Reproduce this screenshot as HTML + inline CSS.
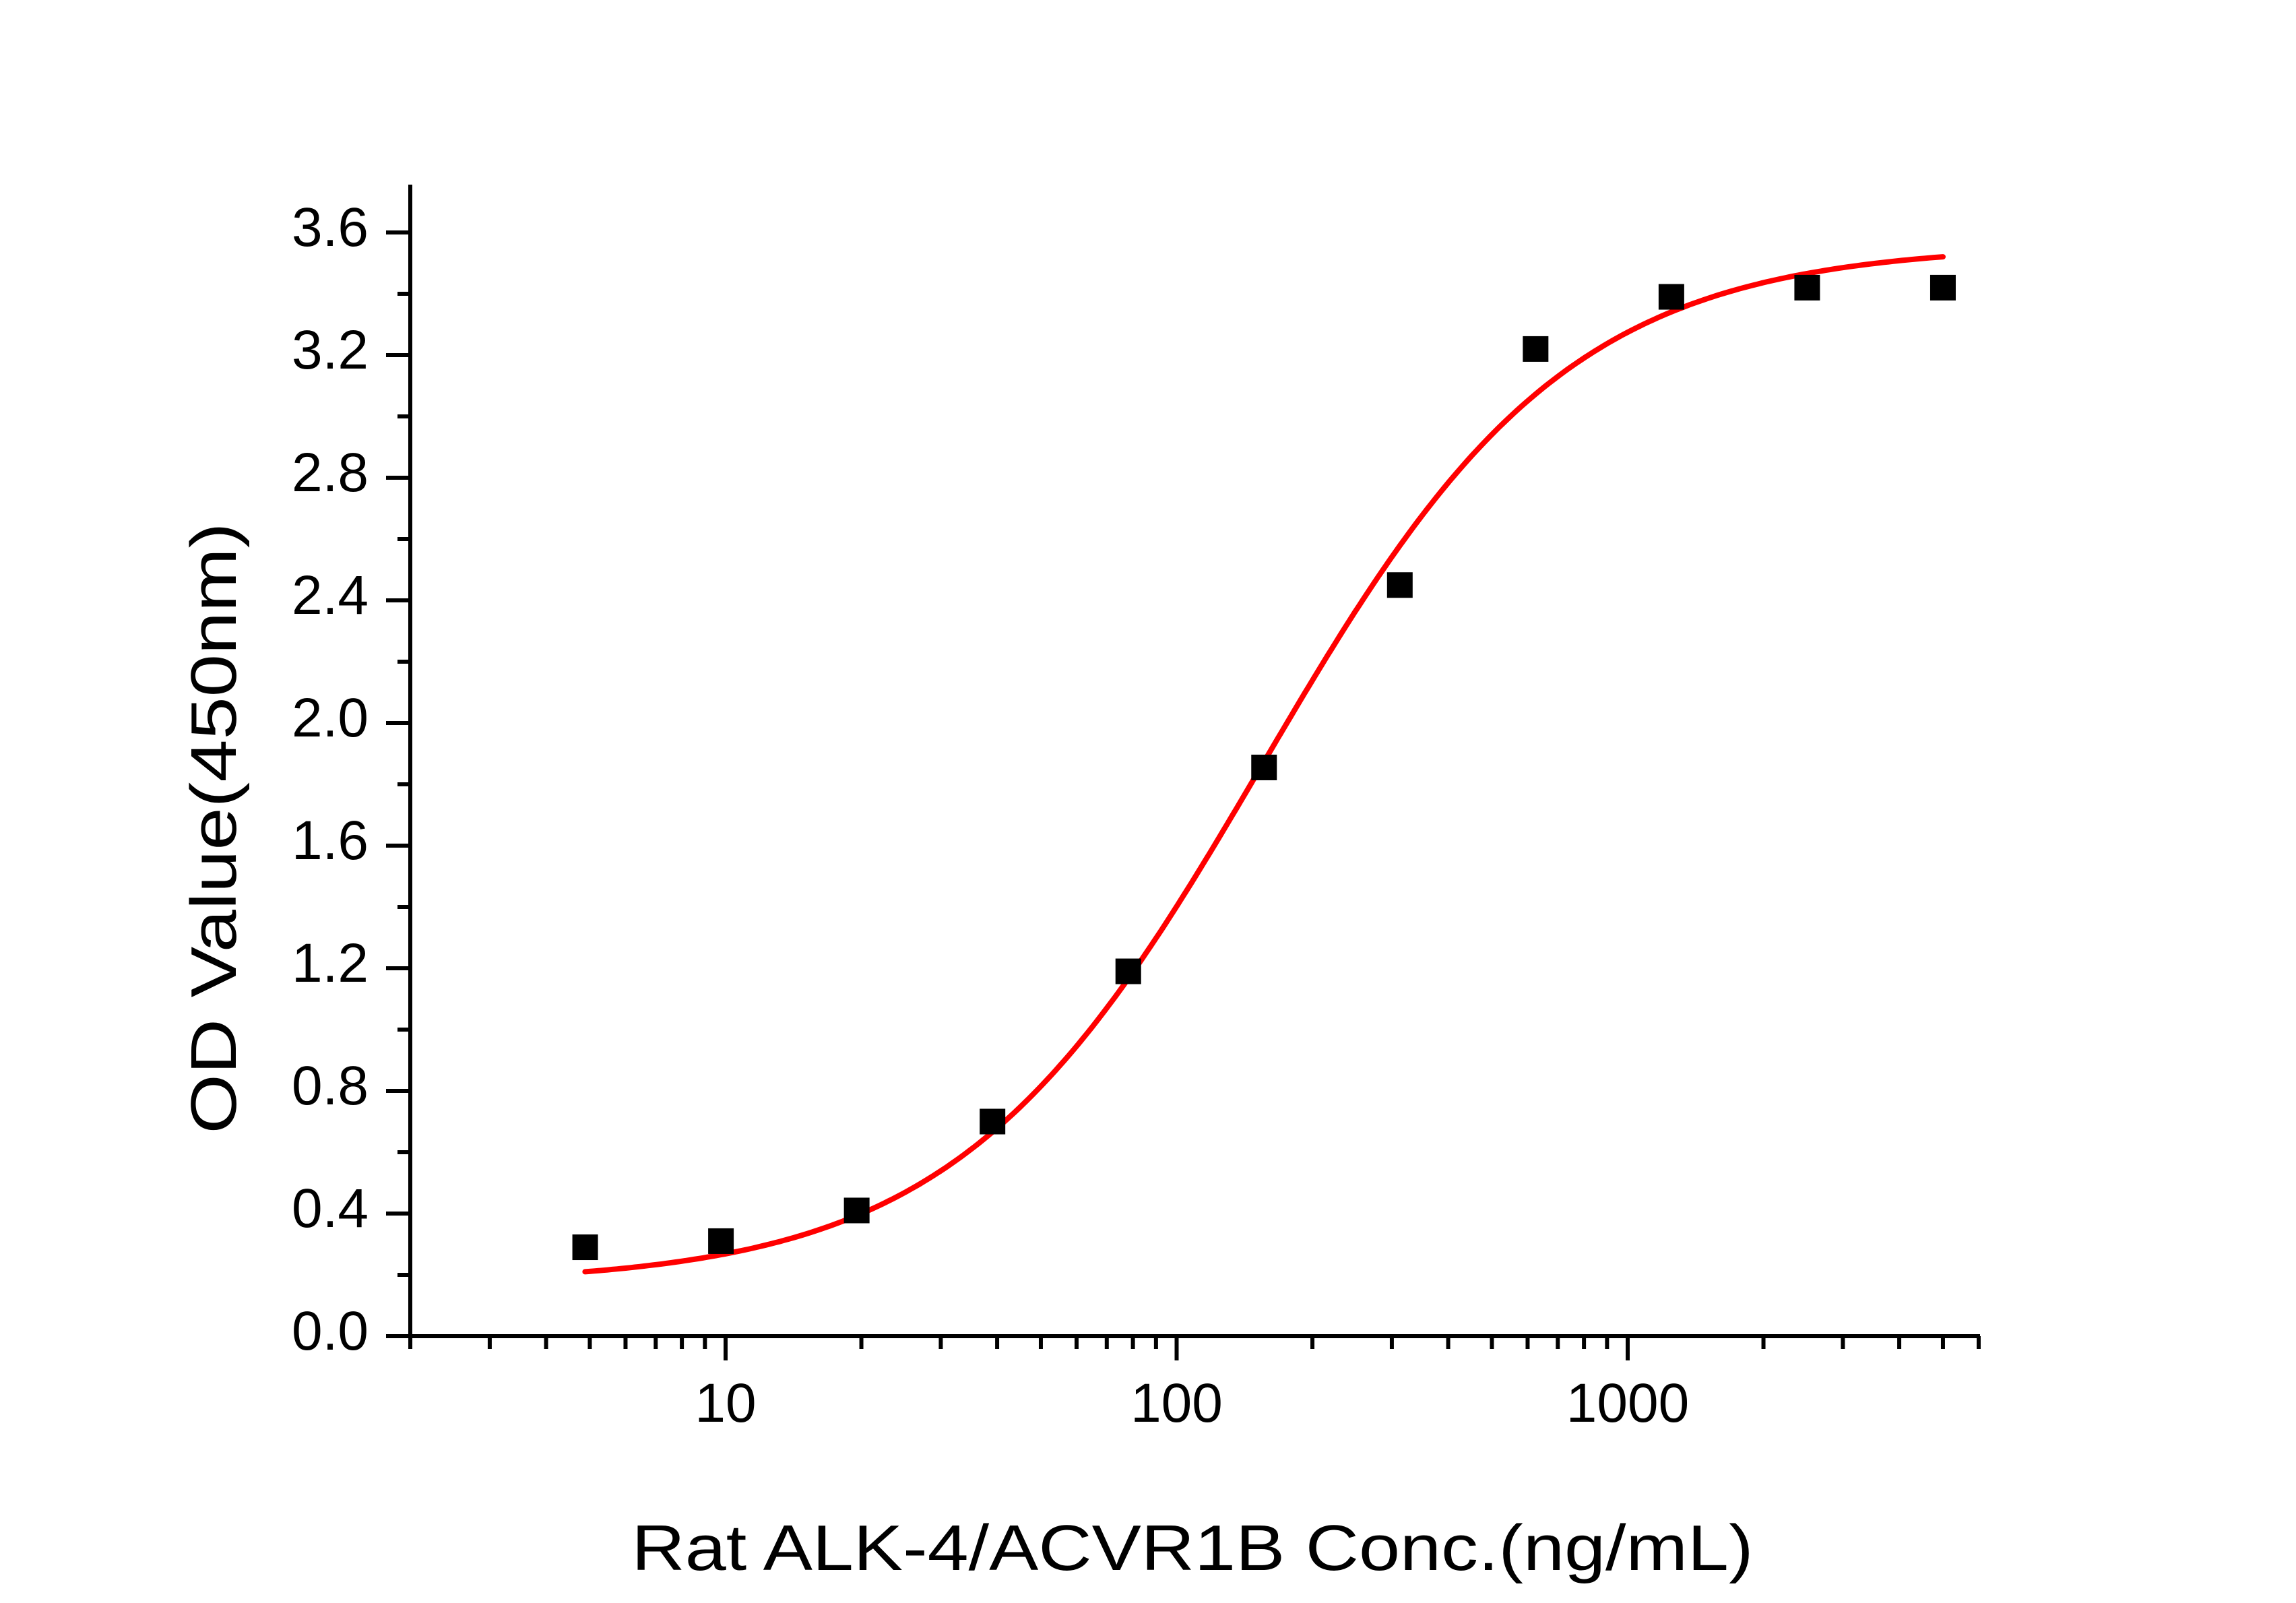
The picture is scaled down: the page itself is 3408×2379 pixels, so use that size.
<!DOCTYPE html>
<html><head><meta charset="utf-8"><style>
html,body{margin:0;padding:0;background:#fff;}
svg{display:block;}
text{font-family:"Liberation Sans",sans-serif;fill:#000;}
</style></head><body>
<svg id="s" width="3408" height="2379" viewBox="0 0 3408 2379" xmlns="http://www.w3.org/2000/svg">
<rect width="3408" height="2379" fill="#fff"/>
<g id="g"></g>
<text x="1770" y="2330" font-size="96" text-anchor="middle" textLength="1665" lengthAdjust="spacingAndGlyphs">Rat ALK-4/ACVR1B Conc.(ng/mL)</text>
<text transform="translate(350,1229) rotate(-90)" font-size="96" text-anchor="middle" textLength="907" lengthAdjust="spacingAndGlyphs">OD Value(450nm)</text>
</svg>
<script>
var g=document.getElementById('g'),NS='http://www.w3.org/2000/svg';
function X(v){return 1077+(Math.log10(v)-1)*669.5;}
function Y(v){return 1983-455*v;}
function el(t,a,txt){var e=document.createElementNS(NS,t);for(var k in a)e.setAttribute(k,a[k]);if(txt!==undefined)e.textContent=txt;g.appendChild(e);return e;}
el('line',{x1:573,y1:1983,x2:2939,y2:1983,stroke:'#000','stroke-width':6});
el('line',{x1:609,y1:274,x2:609,y2:1986,stroke:'#000','stroke-width':6});
for(var i=0;i<=18;i++){var v=i*0.2,y=Y(v),maj=(i%2==0);
 el('line',{x1:maj?573:590,y1:y,x2:609,y2:y,stroke:'#000','stroke-width':6});
 if(maj)el('text',{x:547,y:y+20,'font-size':82,'text-anchor':'end'},v.toFixed(1));}
var ticks=[];
for(var d=1;d<=1000;d*=10)for(var m=1;m<=9;m++){var v=m*d;if(v>=2&&v<=6000)ticks.push(v);}
ticks.forEach(function(v){var x=X(v),maj=(v==10||v==100||v==1000);
 el('line',{x1:x,y1:1983,x2:x,y2:maj?2019:2002,stroke:'#000','stroke-width':6});
 if(maj)el('text',{x:x,y:2110,'font-size':82,'text-anchor':'middle'},String(v));});
var A=0.17,D=3.56,C=155,n=1.28,p='';
for(var i=0;i<=300;i++){var lx=Math.log10(4.88)+i/300*(Math.log10(5000)-Math.log10(4.88));var x=Math.pow(10,lx);
 var y=A+(D-A)*Math.pow(x/C,n)/(1+Math.pow(x/C,n));p+=(i?'L':'M')+X(x).toFixed(1)+' '+Y(y).toFixed(1);}
el('path',{d:p,fill:'none',stroke:'#ff0000','stroke-width':8,'stroke-linecap':'round'});
var ys=[0.29,0.31,0.41,0.70,1.19,1.855,2.45,3.22,3.39,3.42,3.42];
for(var k=0;k<11;k++){var c=5000/Math.pow(2,10-k);
 el('rect',{x:X(c)-19,y:Y(ys[k])-19,width:38,height:38,fill:'#000'});}
</script>
</body></html>
